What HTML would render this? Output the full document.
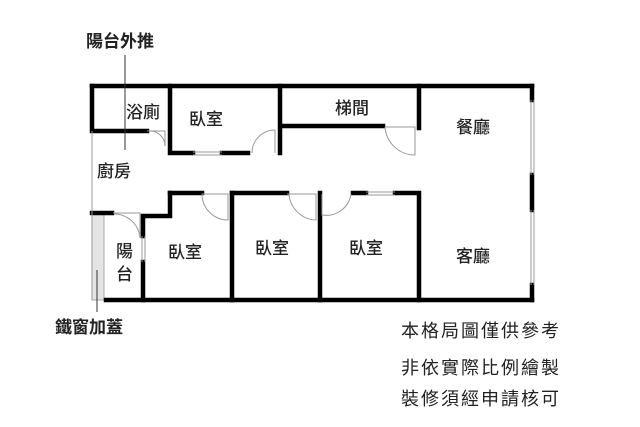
<!DOCTYPE html>
<html><head><meta charset="utf-8"><style>
html,body{margin:0;padding:0;background:#fff;width:640px;height:427px;overflow:hidden}
text{font-family:"Liberation Sans","Noto Sans CJK TC",sans-serif;fill:#222}
</style></head><body>
<svg width="640" height="427" viewBox="0 0 640 427" xmlns="http://www.w3.org/2000/svg">
<rect x="92" y="213" width="12" height="87" fill="#e4e4e4" stroke="#aaa" stroke-width="1"/>
<g stroke="#000" stroke-width="4.5" fill="none" stroke-linecap="square">
<path d="M92 86 H532"/>
<path d="M92 86 V131 H147"/>
<path d="M170 86 V153 H193"/>
<path d="M222 153 H248"/>
<path d="M280 86 V153"/>
<path d="M282 126 H383"/>
<path d="M419 86 V128"/>
<path d="M170 193 H202"/>
<path d="M170 193 V216 H143 V236"/>
<path d="M143 262 V300"/>
<path d="M92 213 H112"/>
<path d="M232 193 H287"/>
<path d="M232 193 V300"/>
<path d="M320 193 V300"/>
<path d="M353 193 H366"/>
<path d="M395 193 H419 V300"/>
<path d="M106 300 H532"/>
<path d="M532 86 V100"/>
<path d="M532 175 V210"/>
<path d="M532 285 V300"/>
</g>
<g stroke="#999" stroke-width="1" fill="none">
<path d="M92 131 V300"/>
<path d="M193 152 H222 M193 155 H222"/>
<path d="M366 192 H395 M366 195 H395"/>
<path d="M142 236 V262 M145 236 V262"/>
<path d="M531 100 V175 M534 100 V175 M531 210 V285 M534 210 V285"/>
<path d="M147 131 H165 V146 A15 15 0 0 0 150 131"/>
<path d="M275 153 V130 A23 23 0 0 0 252 153"/>
<path d="M385 127 H415 V155 A30 30 0 0 1 385 127"/>
<path d="M202 194 H228 V220 A26 26 0 0 1 202 194"/>
<path d="M287 194 H316 V220 A28 28 0 0 1 289 194"/>
<path d="M322 194 V215 A25 25 0 0 0 351 194"/>
<path d="M113 213 H140 V238 A26 26 0 0 0 114 214"/>
</g>
<g stroke="#333" stroke-width="1">
<path d="M125 55 V150"/>
<path d="M97 270 V312"/>
</g>
<g font-size="17" font-weight="500">
<text x="126" y="118">浴廁</text>
<text x="189" y="125">臥室</text>
<text x="335" y="114">梯間</text>
<text x="456" y="133">餐廳</text>
<text x="97" y="177">廚房</text>
<text x="168" y="258">臥室</text>
<text x="255" y="254">臥室</text>
<text x="349" y="254">臥室</text>
<text x="456" y="262">客廳</text>
<text x="116" y="257">陽</text>
<text x="116" y="280">台</text>
</g>
<text x="86" y="47" font-size="17" font-weight="bold">陽台外推</text>
<text x="55" y="333" font-size="17" font-weight="bold">鐵窗加蓋</text>
<g font-size="18" style="letter-spacing:2px">
<text x="401" y="337">本格局圖僅供參考</text>
<text x="401" y="374">非依實際比例繪製</text>
<text x="401" y="405">裝修須經申請核可</text>
</g>
</svg>
</body></html>
